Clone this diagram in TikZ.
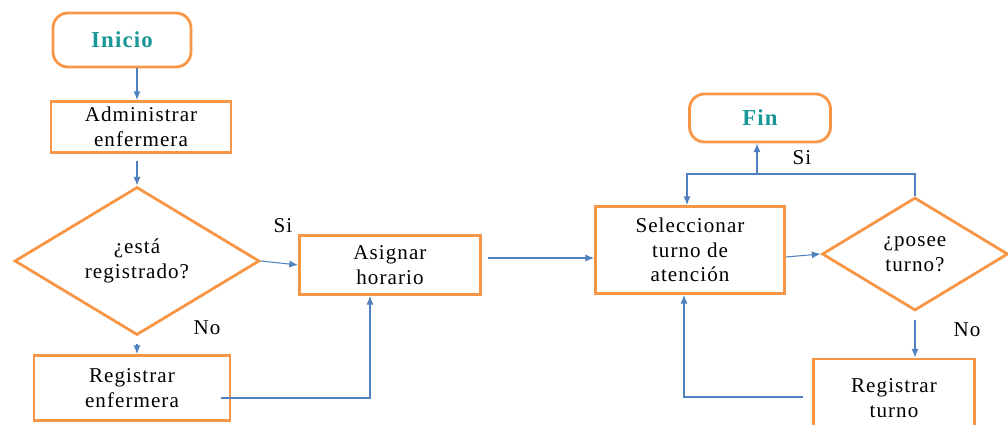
\documentclass[tikz,border=0pt]{standalone}
\usepackage{fontspec}
\setmainfont{Liberation Serif}[LetterSpace=5]
\usetikzlibrary{shapes.geometric, arrows.meta}
\definecolor{boxorange}{RGB}{247,150,70}
\definecolor{flowblue}{RGB}{79,129,189}
\definecolor{titleteal}{RGB}{25,150,150}

\begin{document}
\begin{tikzpicture}[x=0.02cm, y=-0.02cm, font=\rmfamily\fontsize{12}{14}\selectfont]
  \tikzset{
    terminal_box/.style 2 args={
      rectangle, rounded corners=0.3cm, draw=boxorange, line width=1.6pt,
      minimum width=#1, minimum height=#2, inner sep=0pt,
      text=titleteal, font=\rmfamily\fontsize{13}{15}\selectfont\bfseries
    },
    process_box/.style 2 args={
      rectangle, draw=boxorange, line width=1.6pt, align=center,
      minimum width=#1, minimum height=#2, inner sep=0pt
    },
    decision_box/.style 2 args={
      diamond, draw=boxorange, line width=1.6pt, align=center,
      minimum width=#1, minimum height=#2, inner sep=0pt
    },
    flow_arrow/.style={-{Latex[length=5pt,width=4pt]}, draw=flowblue, line width=0.6pt},
    answer_label/.style={font=\rmfamily\fontsize{12}{14}\selectfont}
  }
  \useasboundingbox (0,0) rectangle (1008,425);

  % left part
  \node[terminal_box={2.76cm}{1.08cm}] (inicio) at (122,40) {Inicio};
  \node[process_box={3.6cm}{1.02cm}] (adm) at (141,127) {Administrar\\enfermera};
  \node[decision_box={4.9cm}{2.24cm}] (reg_q) at (137,261) {¿está\\registrado?};
  \node[process_box={3.92cm}{1.3cm}] (reg_enf) at (132,388) {Registrar\\enfermera};
  \node[process_box={3.62cm}{1.18cm}] (asignar) at (390,265) {Asignar\\horario};

  % right part
  \node[terminal_box={2.82cm}{0.96cm}] (fin) at (760,118) {Fin};
  \node[process_box={3.78cm}{1.74cm}] (selec) at (690,250) {Seleccionar\\turno de\\atención};
  \node[decision_box={3.72cm}{2.26cm}] (turno_q) at (915,254) {¿posee\\turno?};
  \node[process_box={3.22cm}{1.56cm}] (reg_turno) at (894,398) {Registrar\\turno};

  % labels
  \node[answer_label] (si_left) at (283,226) {Si};
  \node[answer_label] (no_left) at (207,328) {No};
  \node[answer_label] (si_right) at (802,158) {Si};
  \node[answer_label] (no_right) at (967,330) {No};

  % connectors
  \draw[flow_arrow] (inicio.south -| reg_q) -- (adm.north -| reg_q);
  \draw[flow_arrow, shorten <=0.14cm] (adm.south -| reg_q) -- (reg_q.north);
  \draw[flow_arrow, shorten <=0.16cm] (reg_q.south) -- (reg_enf.north -| reg_q);
  \draw[flow_arrow] (reg_q.east) -- (asignar.west);
  \draw[flow_arrow] ([shift={(-10,10)}]reg_enf.east) -| ([xshift=-0.4cm]asignar.south);
  \draw[flow_arrow] ([shift={(6,-7)}]asignar.east) coordinate (a_out) -- (a_out -| selec.west);
  \draw[flow_arrow] ([yshift=-0.14cm]selec.east) -- (turno_q.west);
  \coordinate (junc) at (757,174);
  \draw[flow_arrow] (turno_q.north) |- (junc) -| ([xshift=-0.06cm]selec.north);
  \draw[flow_arrow] (junc) -- (junc |- fin.south);
  \draw[flow_arrow, shorten <=0.16cm] (turno_q.south) -- (reg_turno.north -| turno_q);
  \draw[flow_arrow] ([shift={(-9,-1)}]reg_turno.west) -| ([xshift=-0.12cm]selec.south);
\end{tikzpicture}
\end{document}
